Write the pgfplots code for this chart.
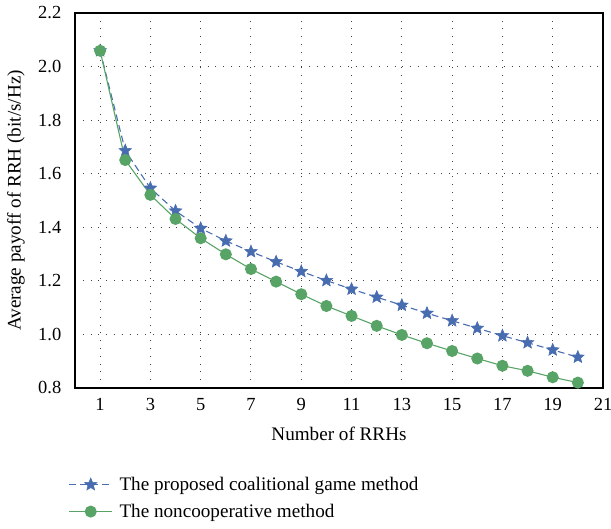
\documentclass[border=0pt]{standalone}
\usepackage{pgfplots}
\pgfplotsset{compat=1.18}
\usepackage{fontspec}
\setmainfont{Liberation Serif}
\definecolor{cblue}{RGB}{72,108,176}
\definecolor{cgreen}{RGB}{88,164,102}
\pgfdeclareplotmark{fstar}{%
  \pgfpathmoveto{\pgfpointpolar{90}{\pgfplotmarksize}}%
  \pgfpathlineto{\pgfpointpolar{126}{0.45\pgfplotmarksize}}%
  \pgfpathlineto{\pgfpointpolar{162}{\pgfplotmarksize}}%
  \pgfpathlineto{\pgfpointpolar{198}{0.45\pgfplotmarksize}}%
  \pgfpathlineto{\pgfpointpolar{234}{\pgfplotmarksize}}%
  \pgfpathlineto{\pgfpointpolar{270}{0.45\pgfplotmarksize}}%
  \pgfpathlineto{\pgfpointpolar{306}{\pgfplotmarksize}}%
  \pgfpathlineto{\pgfpointpolar{342}{0.45\pgfplotmarksize}}%
  \pgfpathlineto{\pgfpointpolar{18}{\pgfplotmarksize}}%
  \pgfpathlineto{\pgfpointpolar{54}{0.45\pgfplotmarksize}}%
  \pgfpathclose
  \pgfusepathqfillstroke}
\begin{document}
\begin{tikzpicture}
\begin{axis}[
  name=ax,
  scale only axis,
  width=386pt, height=274.1pt,
  xmin=0, xmax=21, ymin=0.8, ymax=2.2,
  xtick={1,3,...,21},
  ytick={0.8,1.0,...,2.21},
  yticklabel style={xshift=-6.5pt, /pgf/number format/.cd, fixed, fixed zerofill, precision=1},
  xticklabel style={yshift=-4.3pt},
  /pgf/number format/assume math mode=true,
  major tick length=0pt,
  grid=major,
  major grid style={black!75, line width=0.7pt, dash pattern=on 0.7pt off 5pt},
  axis line style={line width=0.9pt},
  tick label style={font=\fontsize{13.5}{15}\selectfont},
  label style={font=\fontsize{14}{15}\selectfont},
  xlabel={Number of RRHs},
  ylabel={Average payoff of RRH (bit/s/Hz)},
  xlabel style={yshift=-5pt},
  ylabel style={yshift=3pt},
  legend style={at={(axis description cs:-0.02,-0.222)}, anchor=north west, draw=none,
    font=\fontsize{14}{15}\selectfont, row sep=4.5pt, fill=none,
    nodes={inner xsep=5pt}},
  legend cell align=left,
  legend image code/.code={\draw[mark repeat=2,mark phase=2] plot coordinates {(0cm,0cm)(0.55cm,0cm)(1.1cm,0cm)};},
]
\addplot[cblue, line width=0.8pt, dash pattern=on 5pt off 3pt, mark=fstar, mark size=4.8pt,
  mark options={solid, fill=cblue, line width=0.4pt}]
coordinates {
(1,2.059)(2,1.686)(3,1.546)(4,1.461)(5,1.396)(6,1.349)(7,1.309)(8,1.271)(9,1.235)(10,1.201)
(11,1.169)(12,1.139)(13,1.109)(14,1.079)(15,1.051)(16,1.023)(17,0.995)(18,0.969)(19,0.942)(20,0.915)};
\addlegendentry{The proposed coalitional game method}
\addplot[cgreen, line width=0.8pt, mark=*, mark size=4pt, mark options={fill=cgreen}]
coordinates {
(1,2.059)(2,1.651)(3,1.521)(4,1.431)(5,1.359)(6,1.299)(7,1.244)(8,1.197)(9,1.150)(10,1.106)
(11,1.069)(12,1.032)(13,0.998)(14,0.967)(15,0.938)(16,0.910)(17,0.883)(18,0.864)(19,0.840)(20,0.820)};
\addlegendentry{The noncooperative method}
\end{axis}
\pgfresetboundingbox
\path ([xshift=-54.8pt,yshift=-103.1pt]ax.south west) rectangle ([xshift=5.85pt,yshift=9.5pt]ax.north east);
\end{tikzpicture}
\end{document}
